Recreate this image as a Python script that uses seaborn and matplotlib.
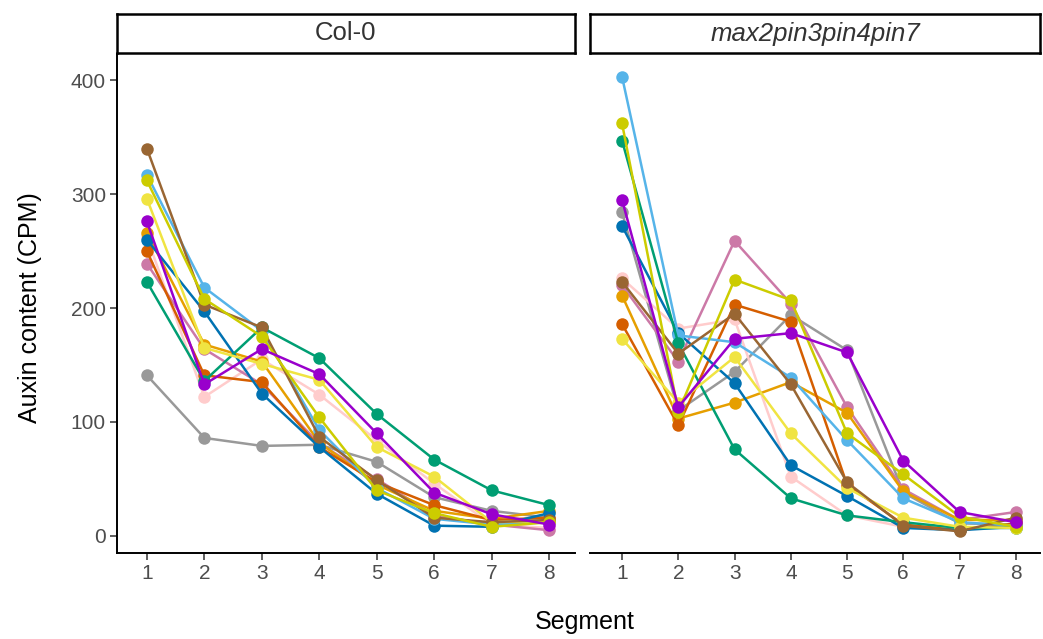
import numpy as np
import pandas as pd
import matplotlib
matplotlib.use("Agg")
import matplotlib.pyplot as plt
import seaborn as sns

segments = [1, 2, 3, 4, 5, 6, 7, 8]
genotypes = ["Col-0", "max2pin3pin4pin7"]
samples = ["gray", "pink", "mauve", "orange", "vermillion", "blue", "lightblue",
           "green", "yellow", "brown", "yellowgreen", "purple"]
colors = {
    "gray": "#999999", "pink": "#FFCCCC", "mauve": "#CC79A7", "orange": "#E69F00",
    "vermillion": "#D55E00", "blue": "#0072B2", "lightblue": "#56B4E9",
    "green": "#009E73", "yellow": "#F0E442", "brown": "#996633",
    "yellowgreen": "#CCCC00", "purple": "#9900CC",
}

# Col-0
col_gray = [141, 86, 79, 80, 65, 34, 22, 16]
col_pink = [262, 122, 155, 124, 84, 46, 10, 7]
col_mauve = [239, 164, 133, 81, 50, 18, 10, 5]
col_orange = [266, 168, 153, 82, 45, 22, 15, 22]
col_vermillion = [250, 141, 135, 78, 47, 27, 14, 16]
col_blue = [260, 197, 125, 78, 37, 9, 8, 20]
col_lightblue = [317, 218, 180, 93, 42, 15, 10, 12]
col_green = [223, 136, 183, 156, 107, 67, 40, 27]
col_yellow = [296, 165, 151, 137, 78, 52, 12, 13]
col_brown = [340, 203, 183, 87, 49, 16, 12, 14]
col_yellowgreen = [312, 208, 175, 104, 40, 20, 8, 12]
col_purple = [276, 133, 164, 142, 90, 38, 19, 10]

# max2pin3pin4pin7
mut_gray = [284, 110, 144, 194, 163, 38, 11, 10]
mut_pink = [226, 182, 190, 52, 18, 8, 7, 7]
mut_mauve = [220, 153, 259, 204, 113, 41, 14, 21]
mut_orange = [211, 103, 117, 135, 108, 39, 14, 14]
mut_vermillion = [186, 97, 203, 188, 45, 10, 5, 11]
mut_blue = [272, 178, 134, 62, 35, 7, 5, 8]
mut_lightblue = [403, 176, 170, 139, 84, 33, 12, 9]
mut_green = [347, 169, 76, 33, 18, 12, 7, 7]
mut_yellow = [173, 117, 157, 90, 42, 16, 8, 7]
mut_brown = [223, 160, 195, 133, 47, 9, 4, 16]
mut_yellowgreen = [362, 109, 225, 207, 90, 54, 17, 8]
mut_purple = [295, 113, 173, 178, 161, 66, 21, 12]

col_vals = dict(gray=col_gray, pink=col_pink, mauve=col_mauve, orange=col_orange,
                vermillion=col_vermillion, blue=col_blue, lightblue=col_lightblue,
                green=col_green, yellow=col_yellow, brown=col_brown,
                yellowgreen=col_yellowgreen, purple=col_purple)
mut_vals = dict(gray=mut_gray, pink=mut_pink, mauve=mut_mauve, orange=mut_orange,
                vermillion=mut_vermillion, blue=mut_blue, lightblue=mut_lightblue,
                green=mut_green, yellow=mut_yellow, brown=mut_brown,
                yellowgreen=mut_yellowgreen, purple=mut_purple)

rows = []
for g, vals in zip(genotypes, [col_vals, mut_vals]):
    for s in samples:
        for seg, v in zip(segments, vals[s]):
            rows.append(dict(genotype=g, sample=s, segment=seg, auxin=v))
df = pd.DataFrame(rows)

sns.set_theme(style="white")
plt.rcParams["font.family"] = ["Liberation Sans", "DejaVu Sans"]

W, H = 1043, 639
fig = plt.figure(figsize=(W / 100, H / 100), dpi=100)

panels = [(117, 575), (590, 1040)]
top, bottom = 54, 553
xlims = [(0.48, 8.45), (0.43, 8.43)]
for i, (g, (x0, x1)) in enumerate(zip(genotypes, panels)):
    ax = fig.add_axes([x0 / W, (H - bottom) / H, (x1 - x0) / W, (bottom - top) / H])
    sub = df[df.genotype == g]
    sns.lineplot(data=sub, x="segment", y="auxin", hue="sample", hue_order=samples,
                 palette=colors, marker="o", markersize=9, markeredgewidth=0,
                 linewidth=1.8, legend=False, ax=ax, units="sample", estimator=None)
    ax.set_xlim(*xlims[i])
    ax.set_ylim(-15, 423)
    ax.set_xticks(segments)
    ax.set_xticklabels([str(s) for s in segments])
    ax.set_yticks([0, 100, 200, 300, 400])
    ax.tick_params(axis="both", which="both", length=5, width=1.1, color="#333333",
                   labelsize=15, labelcolor="#4D4D4D", direction="out",
                   bottom=True, left=(i == 0), pad=3)
    for sp in ["top", "right"]:
        ax.spines[sp].set_visible(False)
    ax.spines["bottom"].set_color("black")
    ax.spines["bottom"].set_linewidth(1.4)
    if i == 0:
        ax.spines["left"].set_color("black")
        ax.spines["left"].set_linewidth(1.4)
    else:
        ax.spines["left"].set_visible(False)
        ax.set_yticklabels([])
    ax.set_ylabel("")
    ax.set_xlabel("")
    ax.grid(False)
    # strip
    sax = fig.add_axes([x0 / W, (H - 53) / H, (x1 - x0) / W, 39 / H])
    sax.set_xticks([]); sax.set_yticks([])
    for sp in sax.spines.values():
        sp.set_visible(True)
        sp.set_color("black")
        sp.set_linewidth(1.8)
    sax.set_facecolor("white")
    sax.text(0.5, 0.5, g, ha="center", va="center", fontsize=18.5, color="#333333",
             style=("italic" if i == 1 else "normal"), transform=sax.transAxes)

fig.text(585 / W, 1 - 622 / H, "Segment", ha="center", va="center", fontsize=18, color="black")
fig.text(30 / W, 1 - 308 / H, "Auxin content (CPM)", ha="center", va="center",
         rotation=90, fontsize=18, color="black")

fig.savefig("out.png", dpi=100)
